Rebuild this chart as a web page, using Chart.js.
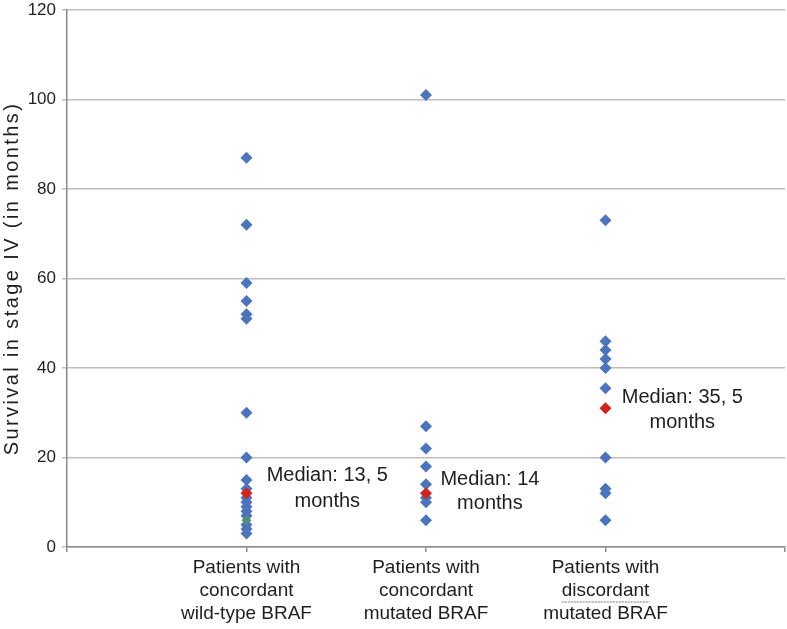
<!DOCTYPE html>
<html><head><meta charset="utf-8">
<script src="https://cdn.jsdelivr.net/npm/chart.js@4/dist/chart.umd.min.js"></script>
<style>html,body{margin:0;padding:0;background:#fff}#wrap{width:787px;height:629px}</style>
</head><body><div id="wrap"><canvas id="c" width="787" height="629"></canvas></div>
<script>
// ---- data ----
const categories = [
  ["Patients with", "concordant", "wild-type BRAF"],
  ["Patients with", "concordant", "mutated BRAF"],
  ["Patients with", "discordant", "mutated BRAF"]
];
const wildTypeValues = [87, 72, 59, 55, 52, 51, 30, 20, 15, 13, 11, 10, 9, 8, 7, 5, 4, 3];
const concordantMutatedValues = [101, 27, 22, 18, 14, 11, 10, 6];
const discordantMutatedValues = [73, 46, 44, 42, 40, 35.5, 20, 13, 12, 6];
const medianValues = [12, 12, 31];
const otherValues = [6]; // greenish marker in group 1
const yTicks = [0, 20, 40, 60, 80, 100, 120];
const yTitle = 'Survival in stage IV (in months)';
const medianLabels = [["Median: 13, 5", "months"], ["Median: 14", "months"], ["Median: 35, 5", "months"]];
const medianLabelX = [1.45, 2.356, 3.428];
const medianLabelY = [[15.9, 10.1], [15.0, 9.8], [33.5, 27.9]];

// ---- build ----
const pts = (cat, arr) => arr.map(v => ({x: cat, y: v}));
const FONT = '"Liberation Sans", Arial, sans-serif';
const TEXT = '#1e1e1e';
const BLUE = '#4A74BC';
const RED = '#D2231E';

const labelPlugin = {
  id: 'medianLabels',
  afterDatasetsDraw(chart) {
    const {ctx, scales: {x, y}} = chart;
    ctx.save();
    ctx.font = '20px ' + FONT;
    ctx.fillStyle = TEXT;
    ctx.textAlign = 'center';
    ctx.textBaseline = 'middle';
    medianLabels.forEach((lines, i) => {
      const px = x.getPixelForValue(medianLabelX[i]);
      lines.forEach((t, j) => ctx.fillText(t, px, y.getPixelForValue(medianLabelY[i][j])));
    });
    ctx.restore();
  },
  afterDraw(chart) {
    const {ctx, scales: {x}, chartArea} = chart;
    // y axis title (rotated)
    ctx.save();
    ctx.font = '20px ' + FONT;
    ctx.fillStyle = TEXT;
    ctx.textAlign = 'center';
    ctx.textBaseline = 'middle';
    if ('letterSpacing' in ctx) ctx.letterSpacing = '2.4px';
    ctx.translate(12, (chartArea.top + chartArea.bottom) / 2);
    ctx.rotate(-Math.PI / 2);
    ctx.fillText(yTitle, 0, 0);
    ctx.restore();
    // spell-check style dotted underline below "discordant"
    ctx.save();
    ctx.font = '19px ' + FONT;
    const w = ctx.measureText(categories[2][1]).width;
    const cx = x.getPixelForValue(3);
    const uy = chartArea.bottom + 55;
    ctx.strokeStyle = '#a0a0a0';
    ctx.lineWidth = 1.5;
    ctx.setLineDash([2, 1]);
    ctx.beginPath();
    ctx.moveTo(cx - w / 2, uy);
    ctx.lineTo(cx + w / 2, uy);
    ctx.stroke();
    ctx.restore();
  }
};

const zeroPad = s => { s.paddingTop = 0; s.paddingBottom = 0; s.paddingLeft = 0; s.paddingRight = 0; };

new Chart(document.getElementById('c'), {
  type: 'scatter',
  data: {
    datasets: [
      {data: [...pts(1, wildTypeValues), ...pts(2, concordantMutatedValues), ...pts(3, discordantMutatedValues)],
       backgroundColor: BLUE, borderColor: BLUE, borderWidth: 0, pointStyle: 'rectRot', pointRadius: 6, order: 3},
      {data: pts(1, otherValues), backgroundColor: '#4F9080', borderColor: '#4F9080', borderWidth: 0,
       pointStyle: 'rectRot', pointRadius: 5, order: 2},
      {data: medianValues.map((v, i) => ({x: i + 1, y: v})), backgroundColor: RED, borderColor: RED, borderWidth: 0,
       pointStyle: 'rectRot', pointRadius: 6, order: 1}
    ]
  },
  options: {
    responsive: false,
    animation: false,
    devicePixelRatio: 1,
    layout: {autoPadding: false, padding: {top: 10, right: 2, left: 0, bottom: 0}},
    plugins: {legend: {display: false}, tooltip: {enabled: false}},
    scales: {
      x: {
        type: 'linear', min: 0, max: 4,
        afterBuildTicks: s => { s.ticks = [0, 1, 2, 3, 4].map(v => ({value: v})); },
        afterFit: s => { s.height = 82; zeroPad(s); },
        ticks: {
          autoSkip: false, maxRotation: 0, padding: 4, color: TEXT,
          font: {family: FONT, size: 19, lineHeight: 1.22},
          callback: v => categories[v - 1] || ''
        },
        grid: {drawOnChartArea: false, drawTicks: true, tickLength: 5, color: '#8a8a8a', lineWidth: 1.5},
        border: {color: '#8a8a8a', width: 1.5}
      },
      y: {
        min: 0, max: 120,
        afterBuildTicks: s => { s.ticks = yTicks.map(v => ({value: v})); },
        afterFit: s => { s.width = 67; zeroPad(s); },
        ticks: {padding: 6, color: TEXT, font: {family: FONT, size: 17}},
        grid: {color: '#bdbdbd', lineWidth: 1.5, drawTicks: true, tickLength: 5},
        border: {color: '#8a8a8a', width: 1.5}
      }
    }
  },
  plugins: [labelPlugin]
});
</script></body></html>
